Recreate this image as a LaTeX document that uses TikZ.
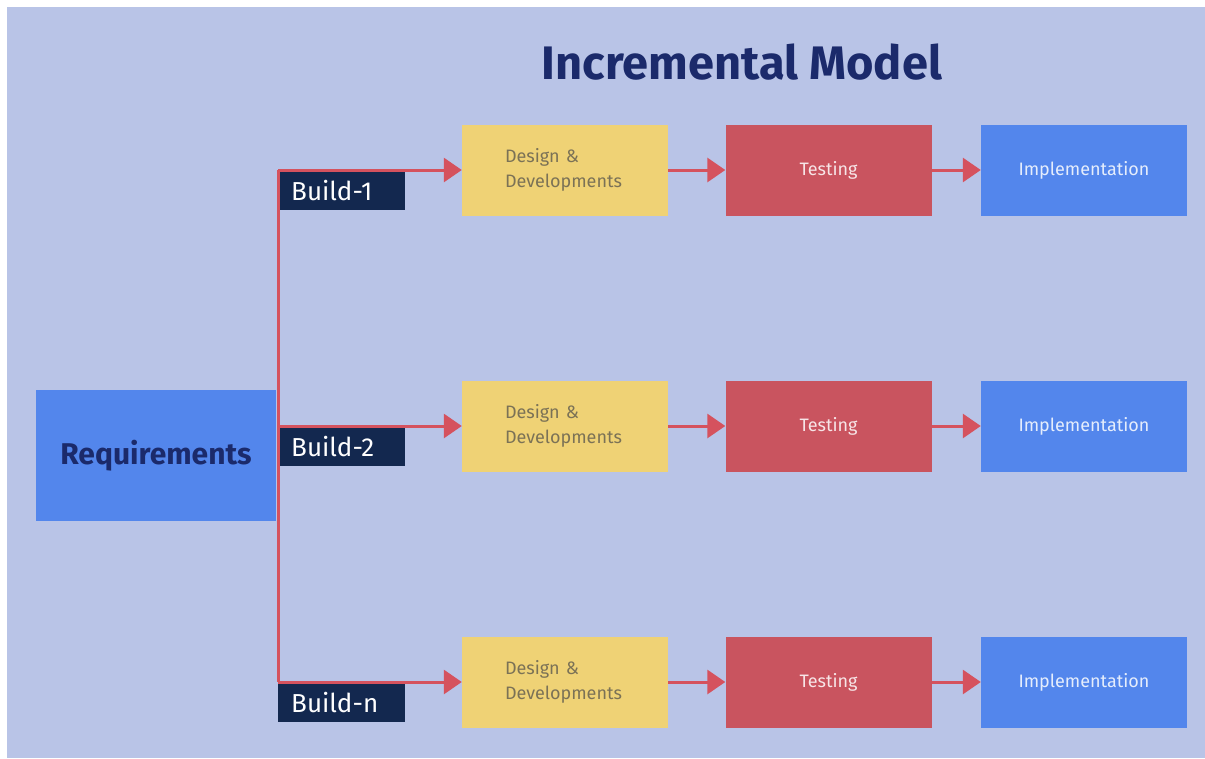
\documentclass[tikz,border=0pt]{standalone}
\usepackage{fontspec}
\setmainfont{Fira Sans}
\usetikzlibrary{arrows.meta}
\definecolor{bgblue}{HTML}{B9C4E7}
\definecolor{boxblue}{HTML}{5386EC}
\definecolor{navy}{HTML}{1B2A6B}
\definecolor{buildnavy}{HTML}{13284F}
\definecolor{designyellow}{HTML}{EFD275}
\definecolor{testred}{HTML}{C9545F}
\definecolor{flowred}{HTML}{D5525E}
\tikzset{
stagebox/.style={
	  inner sep=0pt, minimum width=206pt, minimum height=91pt,
	  font=\fontsize{18}{25}\selectfont},
buildtag/.style={
	  fill=buildnavy, text=white, anchor=north west, inner xsep=13pt, inner ysep=0pt,
	  text width=101pt, minimum height=40pt, font=\fontsize{26}{30}\selectfont},
flow/.style={
	  draw=flowred, line width=3pt, -{Triangle[length=18pt,width=24pt]}}
}

\begin{document}
\begin{tikzpicture}[x=1pt, y=-1pt]
	\useasboundingbox (0,0) rectangle (1205,758);
	\fill[bgblue] (7,7) rectangle (1205,758);
	\node[text=navy, font=\fontsize{47}{52}\selectfont\bfseries] (title) at (742,62) {Incremental Model};
	\node[stagebox, fill=boxblue, minimum width=240pt, minimum height=131pt, text=navy,
		font=\fontsize{30}{34}\selectfont\bfseries] (req) at (156,455.5) {Requirements};
	\foreach \i/\y/\lbl in {1/170/Build-1, 2/426/Build-2, n/682/Build-n}{
		\node[buildtag] (b\i) at (278,\y) {\lbl};
		\node[stagebox, fill=designyellow, text=black!50!designyellow!60!gray, align=left,
			inner xsep=43pt, text width=120pt] (des\i) at (565,\y)
			{Design \&\\Developments};
		\node[stagebox, fill=testred, text=white!85!testred] (test\i) at (828.5,\y) {Testing};
		\node[stagebox, fill=boxblue, text=white!85!boxblue] (impl\i) at (1084,\y) {Implementation};
		\draw[flow] (b\i.north west) -- (des\i.west);
		\draw[flow] (des\i) -- (test\i);
		\draw[flow] (test\i) -- (impl\i);
	}
	\draw[draw=flowred, line width=3pt] (b1.north west) -- (bn.north west);
\end{tikzpicture}
\end{document}
